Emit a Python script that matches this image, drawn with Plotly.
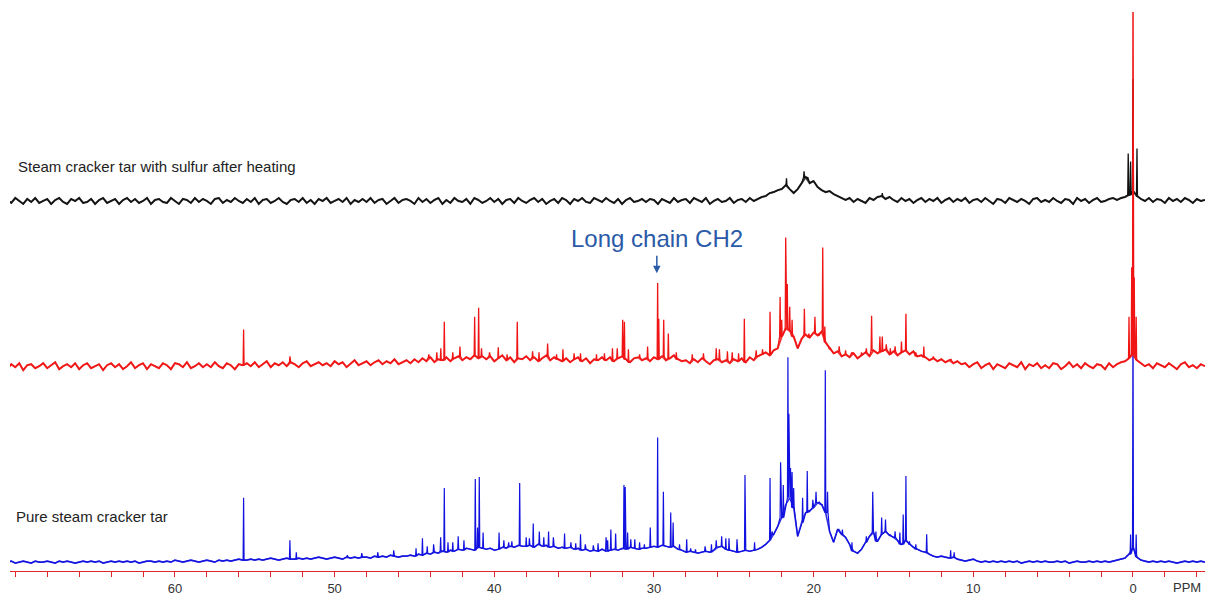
import numpy as np
import plotly.graph_objects as go

# ---------------- data (intensities in arbitrary units) ----------------
# baselines read every 0.25 ppm from 70.5 ppm down to -4.5 ppm
GRID_START, GRID_STEP, GRID_N = 70.5, 0.25, 301
ppm_grid = GRID_START - GRID_STEP * np.arange(GRID_N)

blue_base = [
    0, 1, -1, 0, 1, 0, -1, 1, 0, 0,
    1, 0, -1, 1, 0, 1, 0, -1, 0, 1,
    0, 1, 0, 1, -1, 0, 1, 0, 1, 0,
    1, 0, 1, -1, 0, 1, 1, 0, 1, 0,
    1, 0, 2, 1, 0, 1, 2, 1, 0, 1,
    2, 1, 0, 2, 1, 2, 1, 2, 3, 2,
    2, 3, 2, 3, 2, 3, 4, 3, 2, 3,
    4, 3, 3, 4, 3, 4, 3, 4, 5, 4,
    3, 4, 5, 4, 3, 5, 4, 5, 4, 5,
    5, 4, 6, 5, 6, 5, 7, 6, 5, 6,
    6, 7, 6, 8, 7, 9, 8, 10, 9, 11,
    10, 12, 11, 13, 12, 14, 13, 12, 15, 14,
    13, 14, 12, 13, 15, 14, 16, 15, 17, 16,
    16, 17, 15, 18, 16, 17, 15, 16, 14, 15,
    14, 15, 13, 14, 12, 13, 11, 12, 11, 13,
    11, 12, 13, 12, 14, 13, 15, 14, 13, 14,
    14, 15, 16, 15, 17, 16, 15, 16, 13, 12,
    10, 11, 10, 9, 10, 11, 10, 12, 15, 16,
    13, 12, 11, 10, 11, 12, 11, 12, 13, 15,
    18, 22, 28, 36, 45, 58, 65, 55, 26, 40,
    50, 52, 55, 60, 58, 50, 31, 20, 33, 28,
    25, 18, 11, 9, 13, 20, 26, 30, 21, 28,
    31, 27, 25, 22, 18, 22, 18, 15, 13, 11,
    10, 8, 6, 5, 6, 5, 4, 5, 3, 2,
    1, 2, 3, 1, 0, 1, 0, 1, 0, 1,
    0, 1, 0, 1, -1, 0, 1, 0, 1, 0,
    1, 0, 0, 1, 0, 1, -1, 0, 1, 0,
    0, 1, 0, 1, 0, 1, 0, 1, 2, 3,
    4, 8, 15, 5, 2, 1, 0, 1, 0, 1,
    0, 1, 0, -1, 0, 1, 0, 1, 0, 1,
    0,
]
red_base = [
    -3, 2, -1, 3, -4, 1, 2, -2, 0, 3,
    -2, 1, 4, -3, 0, 2, -1, 3, -3, 1,
    3, -2, 0, 2, -4, 1, 3, -1, 2, -3,
    0, 4, -2, 1, 3, -3, 2, 0, -2, 3,
    1, -3, 3, 2, -1, 4, -2, 0, 3, -1,
    2, -1, 4, 0, -2, 3, 1, -3, 2, 1,
    3, 0, 4, -1, 2, 5, -1, 3, 1, 4,
    0, 4, 2, -1, 3, 5, 0, 2, 4, 1,
    3, 0, 5, 2, 4, -1, 3, 6, 1, 3,
    5, 1, 4, 6, 2, 5, 3, 7, 2, 4,
    6, 3, 7, 4, 8, 5, 9, 4, 7, 6,
    9, 5, 8, 10, 6, 9, 7, 11, 8, 10,
    7, 10, 5, 8, 11, 6, 9, 4, 8, 7,
    10, 6, 9, 5, 8, 11, 6, 9, 7, 5,
    8, 4, 7, 9, 5, 8, 3, 7, 6, 9,
    6, 9, 5, 8, 10, 7, 4, 8, 9, 6,
    8, 5, 9, 7, 10, 6, 8, 11, 7, 5,
    6, 3, 7, 4, 8, 5, 2, 6, 7, 4,
    6, 3, 7, 5, 8, 4, 9, 6, 10, 12,
    14, 11, 16, 18, 30, 38, 36, 30, 18, 28,
    32, 29, 34, 31, 35, 24, 18, 13, 15, 10,
    12, 9, 13, 8, 11, 14, 10, 16, 13, 15,
    17, 12, 15, 11, 14, 16, 12, 15, 10, 11,
    9, 6, 8, 5, 7, 4, 6, 3, 5, 2,
    3, -1, 2, 4, -2, 1, 3, -3, 2, 0,
    -2, 3, 1, -1, 4, -3, 2, 0, 3, -2,
    1, -2, 3, 2, -3, 0, 4, -1, 2, -2,
    3, 0, -2, 2, 1, -3, 3, -1, 2, 4,
    5, 8, 12, 6, 3, 0, 2, -2, 3, 1,
    -1, 3, 0, -3, 2, 4, -1, 1, -2, 2,
    0,
]
black_base = [
    1, -2, 3, 0, -3, 2, -1, 3, -2, 0,
    2, -3, 1, 3, -1, -3, 2, 0, 3, -2,
    -1, 2, -3, 1, 3, -2, 0, 2, -3, 1,
    3, -1, 2, -2, 0, 3, -3, 1, 2, -1,
    -2, 3, 0, -3, 2, 1, -2, 3, -1, 2,
    0, -3, 2, 3, -2, 1, -1, 3, 0, -2,
    2, -1, 3, -3, 1, 2, -2, 0, 3, -1,
    -3, 1, 2, -1, 3, -2, 1, -3, 2, 0,
    3, -2, 0, 2, -1, 3, -3, 1, -1, 2,
    -1, 3, -2, 1, 2, -3, 0, 3, -2, 1,
    2, 0, -3, 3, -1, 2, -2, 1, 3, -3,
    1, -2, 3, 0, -1, 2, -3, 3, 1, -2,
    0, 3, -1, 2, -3, 1, 2, -2, 3, 0,
    -2, 1, 3, -1, 2, -3, 0, 2, -2, 3,
    1, -3, 2, 0, 3, -1, -2, 3, 1, -1,
    3, 0, -2, 2, -3, 1, 3, -1, 0, 2,
    -1, 2, 1, -3, 2, 0, -2, 3, -1, 1,
    2, -2, 3, 1, -1, 3, -3, 0, 2, -1,
    0, 3, -2, 1, 2, -1, 3, 0, 2, 4,
    5, 8, 9, 11, 12, 16, 12, 8, 12, 18,
    24, 18, 20, 14, 11, 9, 10, 7, 5, 3,
    1, 3, -1, 2, 0, -2, 3, 1, 4, 5,
    2, 4, 1, -1, 3, 0, 2, -2, 1, 3,
    -1, 2, 0, 3, -2, 1, 3, -1, 2, 0,
    3, -2, 1, 2, -1, 3, 0, -3, 2, 1,
    -2, 3, 1, -1, 2, 0, -3, 2, 3, -1,
    1, -1, 3, 0, -2, 2, 1, -3, 3, 0,
    2, -2, 1, 3, -1, 0, 2, 3, 1, 3,
    4, 6, 10, 5, 2, 0, 3, -1, 2, 1,
    -2, 3, 0, 2, -1, 3, 1, -2, 2, 0,
    1,
]

blue_peak_ppm = [55.7, 52.8, 52.4, 49.2, 48.3, 47.3, 46.3, 44.9, 44.5, 44.2, 43.8, 43.36, 43.13,
                 42.9, 42.6, 42.26, 41.9, 41.19, 41.05, 40.94, 40.7, 39.7, 39.4, 39.1, 38.9, 38.41,
                 38.0, 37.8, 37.56, 37.18, 36.9, 36.6, 36.3, 35.6, 35.2, 34.9, 34.6, 34.3, 33.8,
                 33.5, 33.0, 32.9, 32.7, 32.4, 31.88, 31.8, 31.65, 31.45, 31.2, 30.9, 30.6, 30.23,
                 29.77, 29.41, 28.95, 28.8, 28.4, 27.95, 27.7, 27.4, 26.8, 26.4, 26.1, 25.76, 25.5,
                 25.3, 24.8, 24.3, 23.7, 22.73, 22.6, 22.07, 21.9, 21.61, 21.55, 21.45, 21.35,
                 21.25, 20.69, 20.4, 20.25, 20.05, 19.85, 19.65, 19.5, 19.27, 19.13, 18.45, 18.2,
                 17.6, 16.7, 16.3, 16.1, 15.74, 15.5, 15.2, 14.9, 14.6, 14.39, 14.22, 14.0, 13.6,
                 12.92, 11.42, 11.2, 0.15, 0.0, -0.2]
blue_peak_int = [65, 22, 10, 7, 9, 10, 12, 14, 24, 16, 18, 25, 75,
                 20, 20, 26, 22, 84, 35, 86, 30, 30, 22, 20, 21, 80,
                 25, 24, 39, 31, 25, 31, 25, 29, 20, 19, 28, 18, 17,
                 19, 25, 22, 33, 29, 78, 76, 30, 23, 23, 20, 18, 35,
                 126, 71, 50, 40, 18, 23, 14, 13, 16, 18, 22, 26, 24,
                 24, 23, 88, 20, 85, 31, 101, 78, 207, 150, 95, 91,
                 75, 65, 92, 51, 63, 71, 61, 58, 194, 71, 33, 33,
                 20, 26, 71, 31, 45, 43, 28, 31, 30, 48, 87, 21, 18,
                 28, 12, 10, 28, 268, 28]

red_peak_ppm = [55.7, 52.8, 44.1, 43.6, 43.35, 43.13, 42.6, 42.15, 41.23, 40.98, 40.8, 40.3, 39.75,
                39.2, 38.56, 37.6, 37.2, 36.66, 36.1, 35.7, 35.0, 34.6, 33.6, 33.1, 32.6, 32.3,
                31.96, 31.85, 31.6, 30.9, 30.4, 29.77, 29.7, 29.39, 29.1, 28.6, 27.6, 26.9, 26.1,
                25.9, 25.4, 25.1, 24.7, 24.34, 23.6, 23.2, 22.73, 22.1, 22.0, 21.75, 21.65, 21.5,
                21.35, 20.58, 20.3, 19.92, 19.7, 19.43, 19.3, 19.0, 18.4, 18.0, 17.6, 17.0, 16.7,
                16.37, 15.85, 15.7, 15.45, 15.2, 14.9, 14.5, 14.22, 13.6, 13.1, 12.5, 11.4, 0.25,
                0.08, 0.0, -0.08, -0.2]
red_peak_int = [37, 10, 12, 14, 18, 45, 14, 20, 50, 59, 18, 14, 19,
                12, 45, 15, 14, 23, 12, 17, 13, 13, 12, 13, 18, 18,
                47, 45, 17, 12, 20, 84, 48, 47, 33, 14, 12, 13, 18,
                17, 15, 14, 13, 48, 16, 17, 55, 70, 47, 130, 83, 60,
                47, 58, 33, 50, 33, 120, 40, 17, 20, 16, 14, 14, 18,
                51, 30, 30, 22, 18, 20, 25, 53, 14, 20, 10, 7, 50,
                100, 420, 90, 50]

black_peak_ppm = [22.1, 21.7, 20.6, 20.4, 20.1, 15.7, 0.3, 0.15, 0.0, -0.25]
black_peak_int = [12, 23, 30, 22, 20, 8, 48, 40, 123, 53]

series_names = ["Steam cracker tar with sulfur after heating",
                "Steam cracker tar with sulfur before heating",
                "Pure steam cracker tar"]
tick_values = [60, 50, 40, 30, 20, 10, 0]
annotation_text = "Long chain CH2"
annotation_ppm = 29.77

for b in (blue_base, red_base, black_base):
    assert len(b) == GRID_N, len(b)
assert len(blue_peak_ppm) == len(blue_peak_int), (len(blue_peak_ppm), len(blue_peak_int))
assert len(red_peak_ppm) == len(red_peak_int), (len(red_peak_ppm), len(red_peak_int))
assert len(black_peak_ppm) == len(black_peak_int)

# ---------------- styling / layout constants ----------------
OFF_BLUE, OFF_RED, OFF_BLACK = 9, 207, 374
HW = 0.03  # half width of a sharp line (ppm)
AX = "#e0282a"
FONT = "Liberation Sans, Arial, sans-serif"
BLUE, RED, BLACK = "#1212e0", "#f01414", "#111111"


def build(base, pk_ppm, pk_int, offset):
    peaks = sorted(zip(pk_ppm, pk_int), key=lambda t: -t[0])
    xs, ys = [], []
    j = 0
    for g, b in zip(ppm_grid, base):
        while j < len(peaks) and peaks[j][0] > g:
            p, h = peaks[j]
            idx = int(round((GRID_START - p) / GRID_STEP))
            bb = base[min(max(idx, 0), GRID_N - 1)]
            xs += [p + HW, p, p - HW]
            ys += [bb + offset, h + offset, bb + offset]
            j += 1
        xs.append(g)
        ys.append(b + offset)
    return xs, ys


fig = go.Figure()
series = [
    (blue_base, blue_peak_ppm, blue_peak_int, OFF_BLUE, BLUE, 1.6, 1.2, series_names[2]),
    (black_base, black_peak_ppm, black_peak_int, OFF_BLACK, BLACK, 2.0, 1.3, series_names[0]),
    (red_base, red_peak_ppm, red_peak_int, OFF_RED, RED, 2.0, 1.3, series_names[1]),
]
for base, pp, pi, off, col, wb, wl, nm in series:
    # thicker noisy baseline band underneath
    fig.add_trace(go.Scatter(x=ppm_grid, y=np.array(base) + off, mode="lines",
                             line=dict(color=col, width=wb), opacity=0.85,
                             name=nm, hoverinfo="skip"))
    xs, ys = build(base, pp, pi, off)
    fig.add_trace(go.Scatter(x=xs, y=ys, mode="lines", line=dict(color=col, width=wl),
                             name=nm, hoverinfo="skip"))

label_font = dict(family=FONT, size=15, color="#222222")
annots = [
    dict(x=69.95, y=409, text=series_names[0]),
    dict(x=70.45, y=279, text=series_names[1]),
    dict(x=70.07, y=55, text=series_names[2]),
]
for a in annots:
    fig.add_annotation(x=a["x"], y=a["y"], xref="x", yref="y", text=a["text"], showarrow=False,
                       xanchor="left", yanchor="middle", font=label_font)

fig.add_annotation(x=annotation_ppm + 0.05, y=336, xref="x", yref="y", text=annotation_text,
                   showarrow=False, xanchor="center", yanchor="middle",
                   font=dict(family=FONT, size=24, color="#2a5aa8"))
fig.add_annotation(x=annotation_ppm + 0.05, y=301, xref="x", yref="y", text="", showarrow=True,
                   ax=0, ay=-19, arrowhead=2, arrowsize=1, arrowwidth=1.5, arrowcolor="#2a5aa8")
fig.add_annotation(x=-3.4, y=-0.03, xref="x", yref="paper", text="PPM", showarrow=False,
                   xanchor="center", yanchor="middle", font=dict(family=FONT, size=13, color="#333333"))

fig.update_layout(
    width=1205, height=596,
    margin=dict(l=10, r=0, t=12, b=19),
    paper_bgcolor="white", plot_bgcolor="white", showlegend=False,
    xaxis=dict(range=[70.33, -4.51], showline=True, linecolor=AX, linewidth=1,
               ticks="outside", ticklen=5, tickcolor=AX, tickwidth=1,
               tickvals=tick_values, ticktext=[str(v) for v in tick_values],
               showgrid=False, zeroline=False,
               tickfont=dict(family=FONT, size=13, color="#333333"),
               minor=dict(dtick=2, tick0=0, ticks="outside", ticklen=5, tickcolor=AX,
                          tickwidth=1, showgrid=False)),
    yaxis=dict(range=[0, 565], visible=False, fixedrange=True),
)

fig.write_html("out.html")
